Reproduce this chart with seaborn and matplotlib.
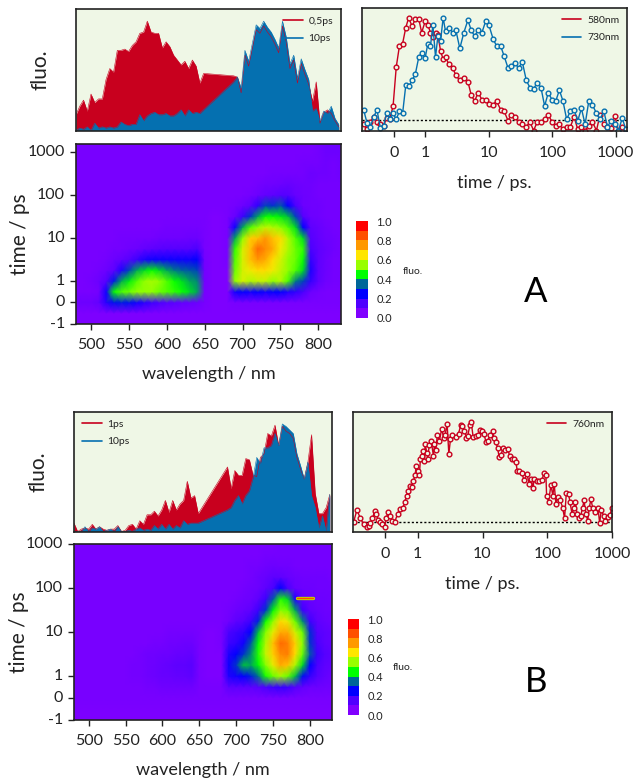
# transient fluorescence figure, panels A and B

import numpy as np
import pandas as pd
import matplotlib
matplotlib.use("Agg")
import matplotlib.pyplot as plt
from matplotlib.colors import LinearSegmentedColormap, ListedColormap
from matplotlib.lines import Line2D
import seaborn as sns

# -----------------------------
# Spectra (wavelength nm, normalised fluo.)
# -----------------------------
spec_wave = [480, 485, 490, 495, 500, 505, 510, 515, 520, 525, 530, 535, 540, 545, 550, 555, 560, 565, 570, 575,
             580, 585, 590, 595, 600, 605, 610, 615, 620, 625, 630, 635, 640, 645, 650,
             690, 695, 700, 705, 710, 715, 720, 725, 730, 735, 740, 745, 750, 755, 760, 765, 770, 775, 780,
             785, 790, 795, 800, 805, 810, 815, 820, 825, 830]

a_spec_05ps = [.13, .20, .25, .16, .30, .23, .26, .26, .42, .51, .48, .66, .66, .67, .65, .70, .73, .80, .81, .90,
               .81, .80, .80, .68, .73, .69, .62, .58, .54, .57, .51, .58, .53, .39, .47,
               .45, .44, .31, .62, .53, .68, .83, .80, .86, .81, .77, .71, .64, .86, .73, .51, .58, .39, .55,
               .46, .38, .24, .40, .06, .15, .17, .14, .08, .03]
a_spec_10ps = [.00, .02, .01, .03, .00, .06, .02, .03, .02, .03, .02, .03, .07, .05, .04, .05, .05, .13, .08, .12,
               .14, .15, .13, .13, .14, .12, .12, .14, .17, .12, .17, .14, .15, .14, .17,
               .40, .44, .35, .66, .57, .72, .87, .84, .90, .85, .81, .75, .68, .90, .77, .55, .62, .43, .59,
               .50, .42, .16, .18, .08, .16, .14, .20, .10, .05]

b_spec_1ps = [.07, .00, .02, .03, .02, .06, .02, .04, .02, .01, .02, .02, .05, .00, .01, .05, .06, .02, .09, .06,
              .14, .14, .17, .13, .18, .26, .16, .26, .18, .23, .26, .42, .28, .30, .15,
              .54, .36, .51, .47, .47, .61, .60, .47, .46, .62, .65, .82, .80, .89, .72, .88, .84, .82, .78,
              .62, .52, .44, .58, .81, .32, .15, .15, .20, .31]
b_spec_10ps = [.00, .00, .00, .04, .00, .03, .02, .04, .00, .01, .02, .00, .04, .00, .00, .01, .00, .02, .03, .01,
               .02, .01, .05, .02, .06, .02, .06, .02, .05, .03, .09, .06, .07, .07, .07,
               .18, .20, .26, .30, .23, .30, .34, .45, .62, .57, .70, .70, .72, .82, .72, .90, .88, .85, .82,
               .65, .55, .44, .58, .30, .20, .03, .13, .00, .31]

# -----------------------------
# Kinetics (time ps, normalised fluo.)
# -----------------------------
a_time = [-.95, -.84, -.74, -.63, -.53, -.42, -.32, -.22, -.13, -.02, .08, .18, .28, .38, .47, .58, .68, .79, .88, .99,
          1.09, 1.20, 1.31, 1.44, 1.57, 1.73, 1.90, 2.07, 2.33, 2.70, 3.01, 3.48, 4.03, 4.66, 5.26, 5.94, 6.78, 7.76,
          8.86, 10.0, 11.6, 13.2, 15.3, 17.3, 20.0, 22.5, 25.7, 29.4, 33.6, 38.8, 44.3, 50.6, 57.8, 66.1, 75.5, 86.3,
          98.6, 113, 129, 147, 168, 192, 220, 251, 287, 328, 375, 428, 495, 565, 646, 738, 843, 964, 1100, 1260, 1440]
a_kin_580 = [.05, .01, .07, .11, .07, .05, .04, .10, .09, .20, .52, .69, .71, .84, .92, .85, .91, .91, .80, .89,
             .86, .80, .76, .80, .78, .65, .58, .60, .54, .51, .45, .41, .43, .40, .29, .24, .31, .25,
             .25, .22, .21, .24, .17, .16, .08, .13, .11, .07, .05, .03, .07, .00, .07, .07, .09, .13,
             .07, .04, .05, .01, .03, .03, .11, .01, .03, .00, .04, .07, .00, .13, .05, .03, .02, .12, .00, .03, .00]
a_kin_730 = [.17, .06, .03, .11, .17, .02, .04, .14, .09, .14, .09, .16, .14, .37, .36, .41, .46, .60, .63, .59,
             .71, .69, .86, .60, .77, .73, .92, .81, .84, .80, .82, .67, .80, .90, .82, .77, .82, .80,
             .89, .86, .75, .69, .69, .61, .51, .53, .55, .51, .56, .41, .35, .34, .39, .35, .20, .31,
             .25, .24, .33, .24, .09, .16, .17, .08, .18, .05, .24, .21, .14, .09, .16, .03, .08, .05, .00, .10, .01]

b_time = [-.98, -.88, -.77, -.67, -.56, -.51, -.46, -.40, -.33, -.28, -.23, -.17, -.10, -.02, .03, .08, .14, .21,
          .29, .38, .45, .55, .60, .66, .71, .76, .81, .86, .92, .95, 1.0, 1.06, 1.10, 1.15, 1.19, 1.27, 1.30, 1.38,
          1.43, 1.50, 1.61, 1.75, 1.81, 1.90, 2.01, 2.16, 2.35, 2.52, 2.65, 2.84, 3.02, 3.20, 3.44, 3.87, 4.26, 4.62,
          4.91, 5.27, 5.66, 5.93, 6.37, 6.68, 7.17, 7.89, 8.67, 9.31, 9.88, 10.5, 11.3, 12.1, 13.1, 14.3, 15.0, 16.1,
          17.1, 18.1, 19.4, 20.6, 22.4, 24.7, 26.2, 28.4, 30.2, 32.8, 34.4, 36.9, 40.6, 43.6, 48.5, 52.7, 56.6, 60.0,
          62.9, 69.2, 75.2, 82.7, 88.8, 95.4, 97.7, 105, 114, 122, 128, 136, 146, 159, 173, 185, 197, 214, 224, 241,
          258, 271, 288, 305, 328, 352, 369, 396, 421, 446, 473, 502, 552, 608, 644, 684, 743, 789, 867, 931, 1000]
b_kin_760 = [.08, .18, .11, .06, .04, .05, .07, .11, .17, .15, .10, .08, .06, .04, .11, .16, .13, .09,
             .08, .15, .19, .20, .25, .30, .34, .38, .37, .42, .47, .55, .51, .47, .61, .63, .67, .59, .73, .66,
             .61, .72, .76, .63, .73, .68, .81, .76, .86, .78, .81, .90, .65, .77, .81, .79, .82, .89,
             .88, .84, .78, .80, .89, .92, .79, .80, .81, .85, .84, .82, .75, .76, .81, .84, .78, .75,
             .70, .62, .64, .70, .68, .69, .63, .61, .61, .58, .51, .51, .49, .43, .48, .40, .44, .36,
             .44, .42, .42, .43, .49, .47, .30, .25, .39, .30, .40, .23, .29, .26, .20, .11, .32, .31, .25, .15,
             .20, .25, .15, .11, .13, .20, .26, .15, .09, .20, .27, .20, .16, .20, .07, .18, .13, .09, .12, .14, .20]

# -----------------------------
# Time-wavelength maps
# -----------------------------
map_wave = list(range(480, 840, 10))
map_time = [-1, -0.5, 0, 0.5, 1, 1.78, 3.16, 5.62, 10, 17.8, 31.6, 56.2, 100, 178, 316, 562, 1000, 1780]

a_m1 = [.01] * 36
a_m05 = [.01] * 36
a_0 = [.04, .05, .05, .07, .17, .24, .25, .24, .20, .17, .14, .12, .10, .09, .07, .06, .05, .02,
       .01, .01, .01, .02, .02, .02, .02, .02, .02, .02, .02, .02, .02, .02, .02, .02, .02, .02]
a_05 = [.02, .02, .02, .03, .20, .45, .50, .52, .55, .55, .55, .52, .50, .48, .45, .42, .38, .02,
        .01, .01, .01, .20, .22, .20, .22, .20, .22, .22, .18, .16, .12, .05, .03, .02, .02, .02]
a_1 = [.02, .02, .03, .05, .10, .25, .38, .43, .50, .55, .57, .55, .50, .45, .42, .38, .36, .03,
       .01, .01, .01, .55, .62, .58, .60, .60, .55, .58, .50, .35, .30, .15, .08, .04, .03, .03]
a_2 = [.02, .02, .02, .03, .05, .08, .18, .30, .38, .42, .45, .42, .38, .35, .33, .32, .30, .03,
       .01, .01, .01, .52, .62, .65, .68, .68, .65, .60, .55, .50, .42, .18, .08, .05, .03, .03]
a_3 = [.02, .02, .02, .02, .03, .05, .07, .10, .14, .18, .20, .20, .20, .20, .20, .20, .22, .03,
       .01, .01, .02, .50, .62, .72, .78, .75, .68, .62, .55, .52, .45, .15, .08, .05, .03, .03]
a_6 = [.02, .02, .02, .02, .02, .03, .03, .04, .05, .07, .08, .09, .10, .10, .10, .10, .12, .02,
       .01, .01, .02, .48, .62, .72, .85, .80, .75, .65, .58, .52, .48, .12, .08, .06, .04, .03]
a_10 = [.02, .02, .02, .02, .02, .02, .03, .03, .03, .03, .03, .04, .04, .04, .04, .05, .05, .02,
        .01, .01, .02, .38, .55, .70, .72, .78, .72, .68, .58, .50, .42, .10, .07, .05, .04, .03]
a_18 = [.02, .02, .02, .02, .02, .02, .02, .02, .02, .02, .02, .02, .03, .03, .03, .03, .03, .02,
        .01, .01, .02, .20, .38, .50, .55, .60, .58, .55, .50, .42, .22, .08, .06, .04, .03, .03]
a_32 = [.02, .02, .02, .02, .02, .02, .02, .02, .02, .02, .02, .02, .02, .02, .02, .02, .02, .02,
        .01, .01, .02, .06, .14, .28, .38, .45, .45, .43, .40, .30, .10, .05, .04, .03, .03, .03]
a_56 = [.02, .02, .02, .02, .02, .02, .02, .02, .02, .02, .02, .02, .02, .02, .02, .02, .02, .02,
        .02, .02, .02, .03, .05, .08, .16, .30, .28, .32, .22, .12, .05, .04, .04, .03, .03, .03]
a_100 = [.02, .02, .02, .02, .02, .02, .02, .02, .02, .02, .02, .02, .02, .02, .02, .02, .02, .02,
         .02, .02, .02, .02, .02, .03, .05, .07, .08, .10, .10, .06, .05, .04, .03, .03, .03, .03]
a_178 = [.02, .02, .02, .02, .02, .02, .02, .02, .02, .02, .02, .02, .02, .02, .02, .02, .02, .02,
         .02, .02, .02, .02, .02, .02, .03, .04, .04, .05, .06, .05, .04, .04, .03, .03, .03, .03]
a_316 = [.02] * 26 + [.03, .03, .03, .03, .03, .05, .04, .04, .03, .04]
a_562 = [.02] * 30 + [.03, .03, .03, .04, .03, .04]
a_1000 = [.02] * 32 + [.03, .05, .05, .05]
a_1780 = [.02] * 32 + [.03, .04, .05, .04]
a_map = [a_m1, a_m05, a_0, a_05, a_1, a_2, a_3, a_6, a_10, a_18, a_32, a_56, a_100, a_178, a_316, a_562, a_1000, a_1780]

b_m1 = [.01] * 36
b_m05 = [.015] * 36
b_0 = [.02] * 36
b_05 = [.02, .02, .02, .02, .02, .02, .02, .02, .02, .02, .03, .03, .04, .04, .04, .04, .04, .02,
        .02, .02, .02, .08, .08, .08, .08, .09, .12, .14, .15, .14, .10, .07, .05, .05, .04, .04]
b_1 = [.02, .02, .02, .02, .02, .02, .02, .02, .03, .03, .04, .05, .06, .06, .07, .07, .08, .02,
       .01, .01, .01, .18, .20, .22, .26, .34, .46, .52, .56, .52, .40, .24, .15, .10, .07, .05]
b_2 = [.02, .02, .02, .02, .02, .02, .02, .02, .03, .03, .04, .05, .06, .07, .08, .08, .09, .02,
       .01, .01, .01, .20, .28, .40, .38, .44, .54, .64, .75, .72, .58, .42, .22, .12, .08, .07]
b_3 = [.02, .02, .02, .02, .02, .02, .02, .02, .02, .03, .04, .04, .05, .05, .06, .06, .07, .02,
       .01, .01, .01, .18, .22, .28, .36, .47, .60, .70, .80, .82, .68, .52, .32, .14, .10, .08]
b_6 = [.02, .02, .02, .02, .02, .02, .02, .02, .02, .02, .02, .03, .03, .04, .04, .05, .05, .02,
       .01, .01, .02, .14, .16, .20, .32, .45, .58, .72, .85, .82, .70, .55, .28, .12, .08, .07]
b_10 = [.02, .02, .02, .02, .02, .02, .02, .02, .02, .02, .02, .02, .02, .03, .03, .03, .03, .02,
        .01, .01, .02, .12, .14, .16, .22, .40, .54, .64, .75, .75, .62, .52, .27, .10, .08, .07]
b_18 = [.02] * 21 + [.04, .08, .10, .14, .26, .45, .55, .68, .64, .52, .36, .14, .08, .06, .05]
b_32 = [.02] * 21 + [.03, .05, .06, .08, .14, .28, .44, .54, .52, .38, .14, .08, .06, .05, .05]
b_56 = [.02] * 22 + [.03, .04, .05, .08, .14, .32, .47, .42, .18, .08, .06, .05, .05, .04]
b_100 = [.02] * 23 + [.03, .04, .05, .08, .12, .22, .12, .06, .05, .05, .04, .04, .04]
b_178 = [.02] * 24 + [.03, .05, .06, .08, .08, .06, .05, .04, .04, .04, .04, .03]
b_316 = [.02] * 24 + [.03, .03, .04, .05, .04, .04, .03, .03, .03, .03, .03, .03]
b_562 = [.02] * 26 + [.03] * 10
b_1000 = [.02] * 28 + [.03] * 8
b_1780 = [.02] * 36
b_map = [b_m1, b_m05, b_0, b_05, b_1, b_2, b_3, b_6, b_10, b_18, b_32, b_56, b_100, b_178, b_316, b_562, b_1000, b_1780]

# hot streak above the blob in panel B
streak_wave = [783, 804]
streak_time = [59, 59]

# -----------------------------
# Ticks and colours
# -----------------------------
wave_ticks = [500, 550, 600, 650, 700, 750, 800]
map_ticks = [-1, 0, 1, 10, 100, 1000]
time_ticks = [0, 1, 10, 100, 1000]
cbar_labels = ["0.0", "0.2", "0.4", "0.6", "0.8", "1.0"]
cbar_colors = ["#8000ff", "#5000ff", "#0000ff", "#006699", "#00ff00",
               "#99ff00", "#ffe600", "#ff9900", "#ff5000", "#ff0000"]

RED = "#c8001e"
BLUE = "#0570b0"
PANEL = "#eff7e6"
INK = "#222222"

sns.set_theme(style="ticks")
plt.rcParams["font.family"] = ["Lato", "DejaVu Sans"]
plt.rcParams["axes.edgecolor"] = INK
plt.rcParams["axes.linewidth"] = 1.2
plt.rcParams["text.color"] = INK
plt.rcParams["axes.labelcolor"] = INK
plt.rcParams["xtick.color"] = INK
plt.rcParams["ytick.color"] = INK

W, H = 639, 780
fig = plt.figure(figsize=(W / 100, H / 100), dpi=100)
map_cmap = LinearSegmentedColormap.from_list("fluo", cbar_colors)
block_cmap = ListedColormap(cbar_colors)


def axes_px(x0, y0, x1, y1):
    return fig.add_axes([x0 / W, 1 - y1 / H, (x1 - x0) / W, (y1 - y0) / H])


def legend_lines(ax, names, colors, loc):
    handles = [Line2D([], [], color=c, lw=1.2) for c in colors]
    ax.legend(handles, names, loc=loc, frameon=False, fontsize=7.5, handlelength=1.9,
              labelspacing=0.75, borderaxespad=0.35, handletextpad=0.55)


def draw_spectra(box, red, blue, names, loc, ylab_x):
    ax = axes_px(*box)
    ax.set_facecolor(PANEL)
    for values, color in [(red, RED), (blue, BLUE)]:
        sns.lineplot(x=spec_wave, y=values, color=color, lw=0.4, ax=ax, legend=False)
        ax.fill_between(spec_wave, values, 0, color=color, lw=0)
    ax.set_xlim(480, 833)
    ax.set_ylim(0, 1)
    ax.set_xticks([])
    ax.set_yticks([])
    ax.set_xlabel("")
    ax.set_ylabel("fluo.", fontsize=15, labelpad=0)
    ax.yaxis.set_label_coords(ylab_x, 0.5)
    legend_lines(ax, names, [RED, BLUE], loc)


def draw_kinetics(box, time, series, colors, names, xmax, base):
    ax = axes_px(*box)
    ax.set_facecolor(PANEL)
    ax.set_xscale("symlog", linthresh=1, linscale=0.45)
    for values, color in zip(series, colors):
        sns.lineplot(x=time, y=values, color=color, lw=1.0, marker="o", ms=3.4, mfc=PANEL,
                     mec=color, mew=1.0, estimator=None, sort=False, ax=ax, legend=False)
    ax.axhline(base, color="black", lw=1.0, ls=(0, (1.5, 1.5)), zorder=1)
    ax.set_xlim(-1, xmax)
    ax.set_ylim(0, 1)
    ax.set_xticks(time_ticks)
    ax.set_xticklabels([str(t) for t in time_ticks], fontsize=11.5)
    ax.xaxis.set_minor_locator(matplotlib.ticker.NullLocator())
    ax.set_yticks([])
    ax.tick_params(axis="x", length=4, width=1, pad=7)
    ax.set_xlabel("time / ps.", fontsize=13, labelpad=11)
    legend_lines(ax, names, colors, "upper right")


def draw_map(box, rows, ytop, ylab_x):
    ax = axes_px(*box)
    df = pd.DataFrame(rows, index=map_time, columns=map_wave)
    sns.heatmap(df, cmap=map_cmap, vmin=0, vmax=1, cbar=False, shading="gouraud", ax=ax)
    ax.set_xlim(0, len(map_wave) - 1)
    ax.set_ylim(0, ytop)
    ax.set_xticks([map_wave.index(w) for w in wave_ticks])
    ax.set_xticklabels([str(w) for w in wave_ticks], rotation=0, fontsize=11.5)
    ax.set_yticks([map_time.index(t) for t in map_ticks])
    ax.set_yticklabels([str(t) for t in map_ticks], rotation=0, fontsize=11.5)
    ax.tick_params(length=4, width=1, pad=4)
    ax.tick_params(axis="x", pad=6)
    ax.set_xlabel("wavelength / nm", fontsize=13, labelpad=10.5)
    ax.set_ylabel("time / ps", fontsize=15)
    ax.yaxis.set_label_coords(ylab_x, 0.5)
    for side in ax.spines.values():
        side.set_visible(True)
    return ax


def draw_cbar(box):
    ax = axes_px(*box)
    blocks = np.arange(len(cbar_colors)).reshape(-1, 1)
    sns.heatmap(blocks, cmap=block_cmap, cbar=False, ax=ax)
    ax.set_ylim(0, len(cbar_colors))
    ax.set_xticks([])
    ax.yaxis.tick_right()
    ax.set_yticks(range(0, 11, 2))
    ax.set_yticklabels(cbar_labels, rotation=0, fontsize=8)
    ax.tick_params(length=0, pad=6)
    ax.set_xlabel("")
    ax.set_ylabel("")


# -----------------------------
# Panel A
# -----------------------------
draw_spectra((76, 9, 341, 130.5), a_spec_05ps, a_spec_10ps, ["0,5ps", "10ps"], "upper right", -0.098)
draw_kinetics((362, 8, 627, 130.5), a_time, [a_kin_580, a_kin_730], [RED, BLUE], ["580nm", "730nm"], 1500, 0.087)
draw_map((76, 144, 341, 324), a_map, 16.74, -0.174)
draw_cbar((356, 221, 368, 318))
fig.text(403 / W, 1 - 272 / H, "fluo.", fontsize=7.5, va="center")
fig.text(536 / W, 1 - 292 / H, "A", fontsize=25, ha="center", va="center", color="black")

# -----------------------------
# Panel B
# -----------------------------
draw_spectra((74, 412, 332, 531.5), b_spec_1ps, b_spec_10ps, ["1ps", "10ps"], "upper left", -0.098)
draw_kinetics((353, 412, 612, 531.5), b_time, [b_kin_760], [RED], ["760nm"], 1000, 0.08)
ax_b = draw_map((74, 544, 332, 720), b_map, 16, -0.174)
streak_x = [map_wave.index(800) + (w - 800) / 10 for w in streak_wave]
streak_y = [map_time.index(56.2) + 4 * np.log10(t / 56.2) for t in streak_time]
sns.lineplot(x=streak_x, y=streak_y, color="#b8e000", lw=2.4, ax=ax_b, legend=False)
sns.lineplot(x=streak_x, y=streak_y, color="#ff5000", lw=1.0, ax=ax_b, legend=False)
draw_cbar((348, 619, 359, 715))
fig.text(393 / W, 1 - 667 / H, "fluo.", fontsize=7.5, va="center")
fig.text(536 / W, 1 - 682 / H, "B", fontsize=25, ha="center", va="center", color="black")

fig.savefig("out.png", dpi=100)
